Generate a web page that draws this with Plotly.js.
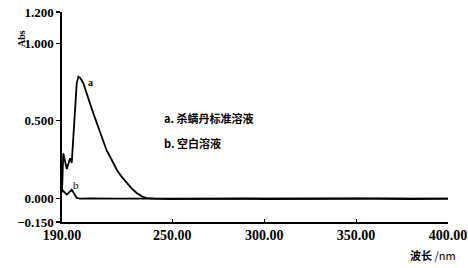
<!DOCTYPE html>
<html><head><meta charset="utf-8">
<script src="https://cdn.plot.ly/plotly-3.0.1.min.js"></script>
<style>html,body{margin:0;padding:0;background:#fff}#c{width:468px;height:268px}</style>
</head><body><div id="c"></div>
<script>
// wavelength (nm) and absorbance for curve a (standard solution)
const aWave = [190, 190.7, 192.6, 194.4, 195.3, 196.2, 197.1, 198.0, 198.9, 200, 201.6, 203.5, 205.2, 207, 208.9, 210.7, 212.5, 214.3, 216.1, 218, 219.8, 222.5, 225.2, 228, 230.6, 233.5, 236.1, 240, 250, 260, 270, 280, 290, 300, 320, 340, 360, 380, 400];
const aAbs  = [0.04, 0.29, 0.19, 0.26, 0.23, 0.40, 0.61, 0.74, 0.784, 0.775, 0.742, 0.68, 0.613, 0.55, 0.485, 0.42, 0.357, 0.31, 0.271, 0.228, 0.186, 0.14, 0.10, 0.065, 0.037, 0.015, 0.004, 0.0, -0.003, -0.002, 0.0, -0.003, 0.0, -0.002, 0.0, -0.002, 0.0, -0.002, 0.0];
// curve b (blank solution)
const bWave = [190, 192.6, 195.3, 196.2, 198.0, 199.8, 205, 220, 250, 300, 350, 400];
const bAbs  = [0.058, 0.026, 0.058, 0.037, 0.004, 0.0, 0.002, 0.0, 0.001, 0.0, 0.001, 0.0];

const xTickVals = [190, 250, 300, 350, 400];
const xTickText = ['190.00', '250.00', '300.00', '350.00', '400.00'];
const yTickVals = [-0.15, 0, 0.5, 1.0, 1.2];
const yTickText = ['\u22120.150', '0.000', '0.500', '1.000', '1.200'];

const serif = "Liberation Serif";
const cjk = "Noto Sans CJK SC";

const traces = [
  {x: aWave, y: aAbs, mode: 'lines', line: {color: '#000', width: 1.8}, hoverinfo: 'skip'},
  {x: bWave, y: bAbs, mode: 'lines', line: {color: '#000', width: 1.8}, hoverinfo: 'skip'}
];

const pw = 468 - 62 - 20, ph = 268 - 12 - 46;
const px = v => (v - 62) / pw;           // pixel -> paper x
const py = v => (268 - 46 - v) / ph;     // pixel -> paper y

const layout = {
  width: 468, height: 268,
  margin: {l: 62, r: 20, t: 12, b: 46},
  paper_bgcolor: '#fff', plot_bgcolor: '#fff',
  showlegend: false,
  font: {family: serif, color: '#000'},
  xaxis: {
    range: [190, 400], tickvals: xTickVals, ticktext: xTickText,
    showgrid: false, zeroline: false, showline: true, linecolor: '#000', linewidth: 1.6,
    ticks: 'inside', ticklen: 3, tickcolor: '#000', tickwidth: 1.2,
    tickfont: {family: serif, size: 14, color: '#000', weight: 'bold'}
  },
  yaxis: {
    range: [-0.15, 1.2], tickvals: yTickVals, ticktext: yTickText,
    showgrid: false, zeroline: false, showline: true, linecolor: '#000', linewidth: 1.6,
    ticks: 'outside', ticklen: 4, tickcolor: '#000', tickwidth: 1.2, ticklabelstandoff: 0,
    tickfont: {family: serif, size: 13, color: '#000', weight: 'bold'}
  },
  annotations: [
    {x: 205.3, y: 0.75, xref: 'x', yref: 'y', text: '<b>a</b>', showarrow: false, font: {family: serif, size: 10, color: '#000'}},
    {x: 197.8, y: 0.09, xref: 'x', yref: 'y', text: 'b', showarrow: false, font: {family: serif, size: 11, color: '#000'}},
    {x: 244.3, y: 0.52, xref: 'x', yref: 'y', xanchor: 'left', text: '<b>a. 杀螨丹标准溶液</b>', showarrow: false, font: {family: cjk, size: 11, color: '#000'}},
    {x: 244.3, y: 0.36, xref: 'x', yref: 'y', xanchor: 'left', text: '<b>b. 空白溶液</b>', showarrow: false, font: {family: cjk, size: 11, color: '#000'}},
    {x: px(458), y: py(255), xref: 'paper', yref: 'paper', xanchor: 'right', yanchor: 'middle', text: '<b>波长</b> /nm', showarrow: false, font: {family: cjk, size: 11, color: '#000'}},
    {x: px(14), y: py(28), xref: 'paper', yref: 'paper', text: '<b>Abs</b>', textangle: -90, showarrow: false, font: {family: serif, size: 10, color: '#000'}}
  ]
};

Plotly.newPlot('c', traces, layout, {staticPlot: true, displayModeBar: false});
</script>
</body></html>
